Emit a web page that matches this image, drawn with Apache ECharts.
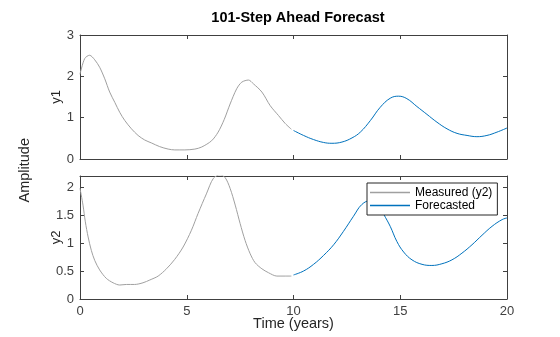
<!DOCTYPE html>
<html><head><meta charset="utf-8">
<script src="https://cdn.jsdelivr.net/npm/echarts@6/dist/echarts.min.js"></script>
<style>html,body{margin:0;padding:0;background:#fff}#c{width:560px;height:337px}</style>
</head><body><div id="c"></div>
<script>
// ---- data ----
const measT1 = [0,0.22,0.45,0.69,0.92,1.16,1.39,1.63,1.86,2.10,2.41,2.72,3.03,3.34,3.73,4.13,4.44,4.91,5.38,5.70,6.16,6.47,6.75,7.03,7.34,7.58,7.89,8.12,8.52,8.91,9.30,9.61,9.90];
const measY1 = [2.05,2.43,2.51,2.40,2.22,1.94,1.62,1.37,1.13,0.93,0.73,0.57,0.46,0.39,0.30,0.24,0.22,0.22,0.24,0.29,0.44,0.65,0.95,1.33,1.70,1.86,1.91,1.82,1.62,1.29,1.05,0.86,0.72];
const foreT1 = [10.0,10.47,10.94,11.41,11.80,12.27,12.74,13.13,13.6,14.06,14.53,14.92,15.31,15.78,16.25,16.72,17.19,17.66,18.13,18.59,19.06,19.53,20];
const foreY1 = [0.69,0.57,0.47,0.40,0.38,0.41,0.51,0.65,0.93,1.25,1.47,1.52,1.46,1.27,1.08,0.89,0.73,0.62,0.57,0.54,0.57,0.65,0.75];
const measT2 = [0,0.14,0.25,0.38,0.53,0.69,0.92,1.23,1.55,1.86,2.17,2.56,2.95,3.27,3.66,4.05,4.44,4.83,5.22,5.53,5.92,6.25,6.56,6.80,7.03,7.27,7.5,7.73,7.97,8.2,8.52,8.83,9.22,9.61,9.90];
const measY2 = [1.98,1.68,1.38,1.11,0.87,0.69,0.52,0.37,0.29,0.25,0.26,0.26,0.29,0.34,0.41,0.54,0.71,0.93,1.23,1.53,1.88,2.16,2.22,2.17,1.98,1.68,1.35,1.05,0.81,0.65,0.54,0.47,0.41,0.41,0.41];
const foreT2 = [10,10.47,10.94,11.41,11.88,12.34,12.81,13.2,13.6,14.0,14.22,14.53,14.84,15.16,15.55,16.02,16.48,16.95,17.42,17.89,18.36,18.83,19.3,19.77,20];
const foreY2 = [0.43,0.50,0.62,0.78,0.97,1.21,1.48,1.69,1.76,1.68,1.52,1.30,1.03,0.84,0.70,0.62,0.60,0.63,0.70,0.82,0.97,1.14,1.30,1.42,1.45];
const xTickValues = [0,5,10,15,20];
const titleText = '101-Step Ahead Forecast';
const legendNames = ['Measured (y2)','Forecasted'];

const zip = (t, v) => t.map((x, i) => [x, v[i]]);
const FONT = '"Liberation Sans", Arial, Helvetica, sans-serif';
const AX = '#404040';
const GRAY = '#a0a0a0', BLUE = '#0072BD';

function xAx(grid, pos, labels) {
  return {
    gridIndex: grid, type: 'value', position: pos,
    min: xTickValues[0], max: xTickValues[xTickValues.length - 1], interval: 5,
    axisLine: { show: true, onZero: false, lineStyle: { color: AX, width: 1 } },
    axisTick: { show: true, inside: true, length: 4, lineStyle: { color: AX } },
    axisLabel: { show: labels, margin: 6, color: AX, fontSize: 13, fontFamily: FONT },
    splitLine: { show: false },
    name: labels ? 'Time (years)' : '', nameLocation: 'middle', nameGap: 17, nameMoveOverlap: false,
    nameTextStyle: { color: '#262626', fontSize: 14.5, fontFamily: FONT }
  };
}
function yAx(grid, pos, labels, max, interval, name) {
  return {
    gridIndex: grid, type: 'value', position: pos,
    min: 0, max: max, interval: interval,
    axisLine: { show: true, onZero: false, lineStyle: { color: AX, width: 1 } },
    axisTick: { show: true, inside: true, length: 4, lineStyle: { color: AX } },
    axisLabel: { show: labels, margin: 6, color: AX, fontSize: 13, fontFamily: FONT, showMaxLabel: max === 3 },
    splitLine: { show: false },
    name: labels ? name : '', nameLocation: 'middle', nameGap: 17, nameRotate: 90, nameMoveOverlap: false,
    nameTextStyle: { color: '#262626', fontSize: 13, fontFamily: FONT }
  };
}

const chart = echarts.init(document.getElementById('c'), null, { renderer: 'canvas' });
chart.setOption({
  animation: false,
  backgroundColor: '#fff',
  title: {
    text: titleText, left: 293, top: 5, textAlign: 'center',
    textStyle: { fontSize: 14.5, fontWeight: 'bold', color: '#000', fontFamily: FONT }
  },
  grid: [
    { left: 80, top: 35, width: 427, height: 124, show: false },
    { left: 80, top: 176, width: 427, height: 123, show: false }
  ],
  xAxis: [xAx(0, 'bottom', false), xAx(0, 'top', false), xAx(1, 'bottom', true), xAx(1, 'top', false)],
  yAxis: [yAx(0, 'left', true, 3, 1, 'y1'), yAx(0, 'right', false, 3, 1, ''),
          yAx(1, 'left', true, 2.2, 0.5, 'y2'), yAx(1, 'right', false, 2.2, 0.5, '')],
  legend: {
    data: legendNames, orient: 'vertical', left: 367, top: 183,
    icon: 'rect', itemWidth: 40, itemHeight: 1.5, itemGap: 0,
    backgroundColor: '#fff', borderColor: '#262626', borderWidth: 1, borderRadius: 0,
    padding: [3, 5, 3, 3],
    textStyle: { fontSize: 12, color: '#000', fontFamily: FONT, lineHeight: 13 }
  },
  graphic: [{
    type: 'text', left: 17, top: 138, rotation: Math.PI / 2,
    style: { text: 'Amplitude', fontSize: 14.5, fontFamily: FONT, fill: '#262626' }
  }],
  series: [
    { name: 'Measured (y1)', type: 'line', xAxisIndex: 0, yAxisIndex: 0, data: zip(measT1, measY1),
      symbol: 'none', smooth: 0.3, lineStyle: { color: GRAY, width: 1 }, itemStyle: { color: GRAY } },
    { name: 'Forecasted (y1)', type: 'line', xAxisIndex: 0, yAxisIndex: 0, data: zip(foreT1, foreY1),
      symbol: 'none', smooth: 0.4, lineStyle: { color: BLUE, width: 1 }, itemStyle: { color: BLUE } },
    { name: 'Measured (y2)', type: 'line', xAxisIndex: 2, yAxisIndex: 2, data: zip(measT2, measY2),
      symbol: 'none', smooth: 0.3, lineStyle: { color: GRAY, width: 1 }, itemStyle: { color: GRAY } },
    { name: 'Forecasted', type: 'line', xAxisIndex: 2, yAxisIndex: 2, data: zip(foreT2, foreY2),
      symbol: 'none', smooth: 0.4, lineStyle: { color: BLUE, width: 1 }, itemStyle: { color: BLUE } }
  ]
});
</script>
</body></html>
